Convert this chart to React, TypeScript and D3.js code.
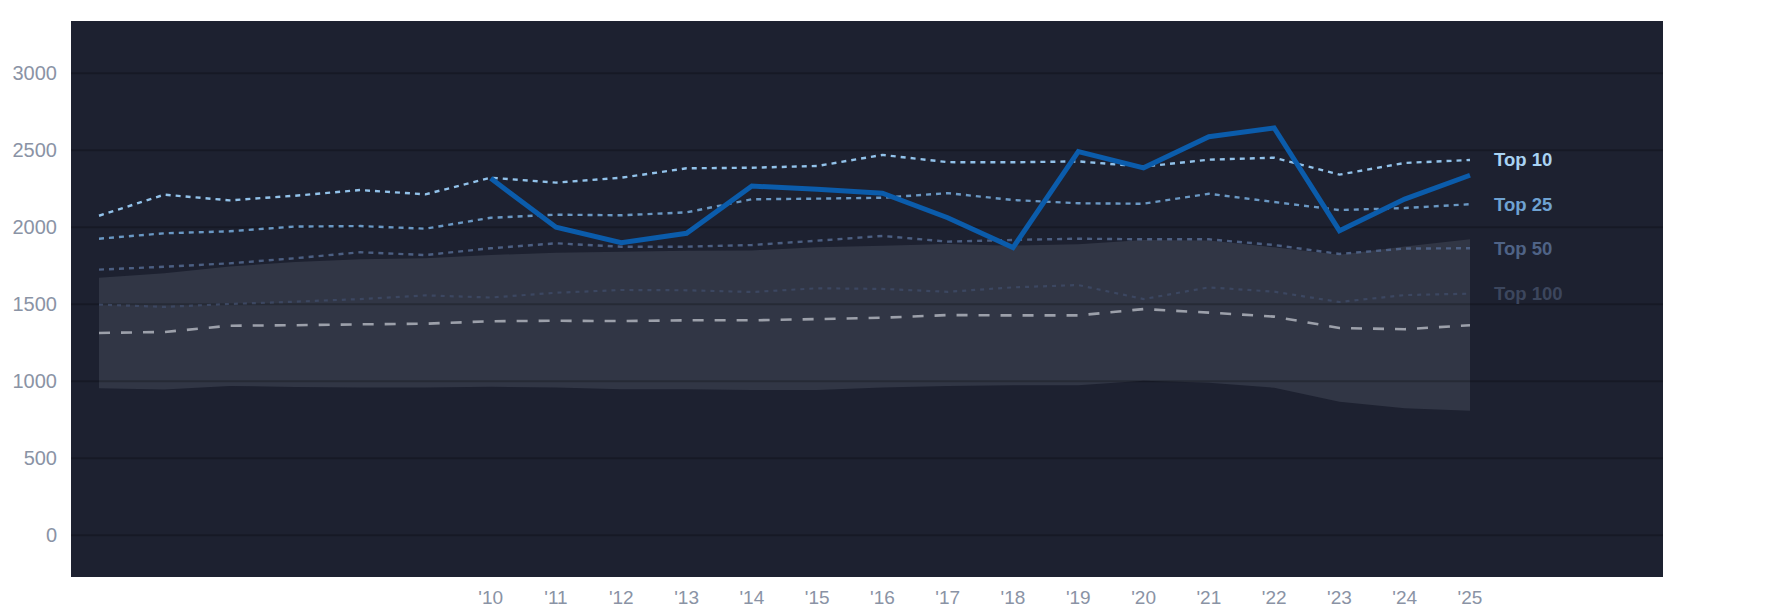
import * as d3 from 'd3';

const years = d3.range(2004, 2026);
const labelYears = d3.range(2010, 2026);
const yTicks = [0, 500, 1000, 1500, 2000, 2500, 3000];

const top10 = [2075, 2212, 2175, 2205, 2242, 2214, 2322, 2290, 2322, 2383, 2387, 2398, 2470, 2423, 2422, 2428, 2394, 2439, 2452, 2342, 2418, 2437];
const top25 = [1926, 1961, 1974, 2005, 2008, 1991, 2062, 2082, 2078, 2097, 2182, 2186, 2192, 2222, 2177, 2156, 2153, 2218, 2164, 2112, 2125, 2150];
const top50 = [1725, 1744, 1766, 1799, 1838, 1820, 1864, 1896, 1874, 1874, 1885, 1913, 1944, 1907, 1918, 1926, 1922, 1922, 1885, 1827, 1862, 1864];
const top100 = [1498, 1483, 1502, 1517, 1534, 1558, 1544, 1575, 1593, 1591, 1580, 1604, 1600, 1581, 1610, 1625, 1534, 1610, 1582, 1515, 1560, 1569];
const median = [1314, 1320, 1361, 1364, 1370, 1374, 1390, 1393, 1391, 1396, 1396, 1404, 1413, 1430, 1428, 1428, 1469, 1446, 1420, 1346, 1338, 1364];
const bandHigh = [1673, 1701, 1745, 1775, 1792, 1799, 1820, 1835, 1842, 1848, 1850, 1870, 1880, 1892, 1881, 1890, 1918, 1915, 1870, 1822, 1875, 1922];
const bandLow = [955, 946, 970, 963, 960, 960, 964, 959, 948, 948, 943, 943, 959, 970, 974, 974, 1004, 991, 958, 867, 825, 809];

const teamYears = d3.range(2010, 2026);
const team = [2318, 2000, 1900, 1961, 2268, 2247, 2221, 2062, 1868, 2491, 2386, 2588, 2645, 1978, 2183, 2338];

const W = 1785;
const H = 614;
const plot = { left: 71, right: 1663, top: 21, bottom: 577 };

const x = d3.scaleLinear().domain([2004, 2025]).range([99, 1470]);
const y = d3.scaleLinear().domain([0, 3000]).range([535.3, 73.3]);

const font = "'Liberation Sans', Arial, sans-serif";

const tiers = [
  { name: 'Top 10', values: top10, stroke: '#92c2ea', label: '#a9d3f3', dash: '5,5', width: 2.4 },
  { name: 'Top 25', values: top25, stroke: '#6a98c4', label: '#6fa2d2', dash: '5,5', width: 2.4 },
  { name: 'Top 50', values: top50, stroke: '#4c5f82', label: '#4f6386', dash: '5,5', width: 2.4 },
  { name: 'Top 100', values: top100, stroke: '#3c4761', label: '#3c465d', dash: '4,5', width: 2.2 },
];

export default function App() {
  const line = d3
    .line<number>()
    .x((_d, i) => x(years[i]))
    .y((d) => y(d));

  const teamLine = d3
    .line<number>()
    .x((_d, i) => x(teamYears[i]))
    .y((d) => y(d));

  const band = d3
    .area<number>()
    .x((_d, i) => x(years[i]))
    .y0((_d, i) => y(bandLow[i]))
    .y1((d) => y(d));

  const last = years.length - 1;

  return (
    <svg
      width={W}
      height={H}
      style={{ position: 'absolute', left: 0, top: 0, background: '#fff' }}
    >
      <rect
        x={plot.left}
        y={plot.top}
        width={plot.right - plot.left}
        height={plot.bottom - plot.top}
        fill="#1d2130"
      />
      <path d={band(bandHigh) ?? ''} fill="#313645" />
      {/* grid sits over the band, darkened */}
      {yTicks.map((t) => (
        <line
          key={t}
          x1={plot.left}
          x2={plot.right}
          y1={y(t)}
          y2={y(t)}
          stroke="#000"
          strokeOpacity={0.22}
          strokeWidth={2}
        />
      ))}
      <path d={line(median) ?? ''} fill="none" stroke="#9ca0aa" strokeWidth={2.6} strokeDasharray="11,11" />
      {tiers.map((s) => (
        <path
          key={s.name}
          d={line(s.values) ?? ''}
          fill="none"
          stroke={s.stroke}
          strokeWidth={s.width}
          strokeDasharray={s.dash}
        />
      ))}
      <path
        d={teamLine(team) ?? ''}
        fill="none"
        stroke="#0b5cab"
        strokeWidth={5}
        strokeLinejoin="miter"
      />
      {tiers.map((s) => (
        <text
          key={'l' + s.name}
          x={x(2025) + 24}
          y={y(s.values[last])}
          dy="0.35em"
          fill={s.label}
          fontFamily={font}
          fontWeight="bold"
          fontSize={18.5}
        >
          {s.name}
        </text>
      ))}
      {yTicks.map((t) => (
        <text
          key={'y' + t}
          x={57}
          y={y(t)}
          dy="0.35em"
          textAnchor="end"
          fill="#8a93a5"
          fontFamily={font}
          fontSize={20}
        >
          {t}
        </text>
      ))}
      {labelYears.map((yr) => (
        <text
          key={'x' + yr}
          x={x(yr)}
          y={597.5}
          dy="0.35em"
          textAnchor="middle"
          fill="#8a93a5"
          fontFamily={font}
          fontSize={19}
        >
          {"'" + String(yr).slice(2)}
        </text>
      ))}
    </svg>
  );
}
